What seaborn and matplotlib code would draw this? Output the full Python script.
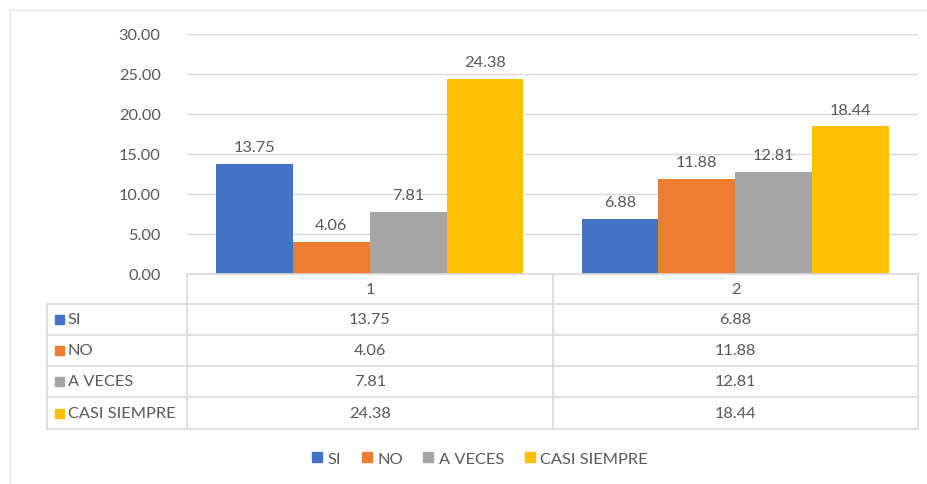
import numpy as np
import pandas as pd
import matplotlib
matplotlib.use("Agg")
import matplotlib.pyplot as plt
from matplotlib.lines import Line2D
from matplotlib.patches import Rectangle
import seaborn as sns

# datos del grafico
grupos = ["1", "2"]
series = ["SI", "NO", "A VECES", "CASI SIEMPRE"]
si = [13.75, 6.88]
no = [4.06, 11.88]
a_veces = [7.81, 12.81]
casi_siempre = [24.38, 18.44]
colores = ["#4472C4", "#ED7D31", "#A5A5A5", "#FFC000"]
yticks = [0, 5, 10, 15, 20, 25, 30]

valores = [si, no, a_veces, casi_siempre]
df = pd.DataFrame({
    "grupo": [g for s in series for g in grupos],
    "serie": [s for s in series for g in grupos],
    "valor": [v for vals in valores for v in vals],
})

sns.set_style("white")
plt.rcParams["font.family"] = ["Lato", "DejaVu Sans"]
txt = "#595959"
linea = "#D9D9D9"
fs = 11.8

W, H = 928, 485
fig = plt.figure(figsize=(W / 100, H / 100), dpi=100)

def fx(px):
    return px / W

def fy(py):
    return 1 - py / H

# area del grafico en pixeles
x0, x1 = 187, 918
y_top, y_bot = 35, 275
ax = fig.add_axes([fx(x0), fy(y_bot), fx(x1) - fx(x0), fy(y_top) - fy(y_bot)])

sns.barplot(data=df, x="grupo", y="valor", hue="serie", palette=colores,
            saturation=1, width=0.84, gap=0, edgecolor="none", linewidth=0,
            legend=False, ax=ax)
ax.set_xlim(-0.5, 1.5)
ax.set_ylim(0, 30)
ax.set_yticks(yticks)
ax.set_yticklabels([f"{t:.2f}" for t in yticks], color=txt, fontsize=fs)
ax.tick_params(axis="y", length=0, pad=19)
ax.set_xticks([])
ax.set_xlabel("")
ax.set_ylabel("")
ax.grid(axis="y", color=linea, linewidth=1)
ax.set_axisbelow(True)
for s in ["top", "right", "left", "bottom"]:
    ax.spines[s].set_visible(False)

for cont in ax.containers:
    ax.bar_label(cont, fmt="%.2f", padding=7, color=txt, fontsize=fs)

# tabla de datos
col_x = [47, 187, 553, 918]
row_y = [275, 305, 336, 367, 398, 430]
lc = "#D9D9D9"
for y in row_y:
    xa = 187 if y == 275 else 47
    fig.add_artist(Line2D([fx(xa), fx(918)], [fy(y), fy(y)], color=lc, lw=1.2))
for x in col_x:
    ya = 305 if x == 47 else 275
    fig.add_artist(Line2D([fx(x), fx(x)], [fy(ya), fy(430)], color=lc, lw=1.2))

for j, g in enumerate(grupos):
    cx = (col_x[j + 1] + col_x[j + 2]) / 2
    fig.text(fx(cx), fy((row_y[0] + row_y[1]) / 2), g, ha="center", va="center",
             color=txt, fontsize=fs)
    for i, vals in enumerate(valores):
        fig.text(fx(cx), fy((row_y[i + 1] + row_y[i + 2]) / 2), f"{vals[j]:.2f}",
                 ha="center", va="center", color=txt, fontsize=fs)

for i, s in enumerate(series):
    cy = (row_y[i + 1] + row_y[i + 2]) / 2
    fig.add_artist(Rectangle((fx(55), fy(cy + 4.5)), fx(9), 9 / H, color=colores[i]))
    fig.text(fx(68), fy(cy), s, ha="left", va="center", color=txt, fontsize=fs)

# leyenda inferior
handles = [Rectangle((0, 0), 1, 1, color=c) for c in colores]
fig.legend(handles, series, loc="center", bbox_to_anchor=(fx(480), fy(460)),
           ncol=4, frameon=False, fontsize=fs, labelcolor=txt,
           handlelength=0.6, handleheight=0.6, handletextpad=0.35, columnspacing=1.25)

# borde del grafico
fig.add_artist(Line2D([fx(10), fx(928)], [fy(11), fy(11)], color="#E6E6E6", lw=1))
fig.add_artist(Line2D([fx(10), fx(10)], [fy(11), fy(485)], color="#E6E6E6", lw=1))

fig.savefig("out.png", dpi=100)
